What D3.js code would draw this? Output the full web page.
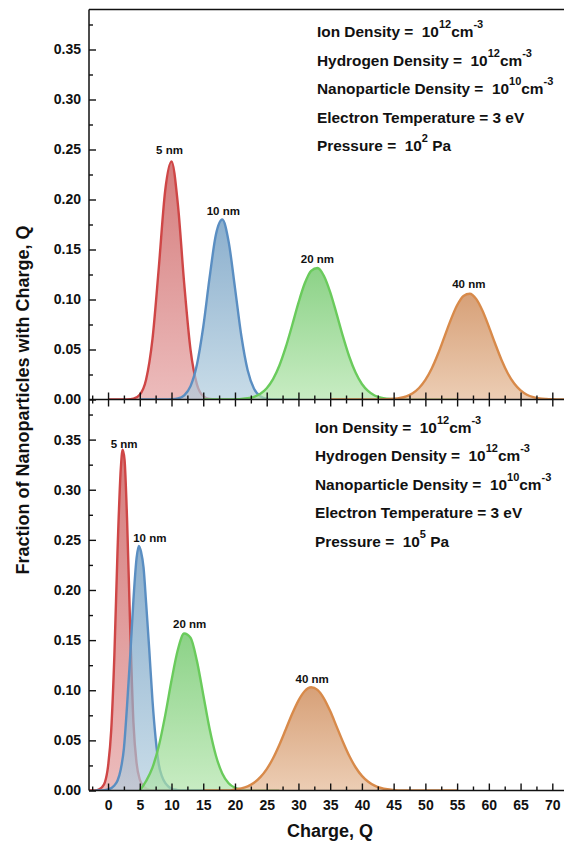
<!DOCTYPE html>
<html><head><meta charset="utf-8">
<script src="https://cdn.jsdelivr.net/npm/d3@7"></script>
<style>
body{margin:0;background:#fff}
svg{display:block;font-family:"Liberation Sans",Arial,sans-serif;font-weight:bold}
</style></head><body>
<svg id="c" width="564" height="843"></svg>
<script>
// ---------- data ----------
const xMajor = [0,5,10,15,20,25,30,35,40,45,50,55,60,65,70];
const xMinor = [-2.5,2.5,7.5,12.5,17.5,22.5,27.5,32.5,37.5,42.5,47.5,52.5,57.5,62.5,67.5];
const yMajor = [0,0.05,0.10,0.15,0.20,0.25,0.30,0.35];
const yMinor = [0.025,0.075,0.125,0.175,0.225,0.275,0.325,0.375];
const sizeLabels = ["5 nm","10 nm","20 nm","40 nm"];

// Pressure 10^2 Pa  [charge Q, fraction]
const top5nm = [[0,0],[2,0],[3,0.0001],[4,0.0008],[5,0.0047],[6,0.0199],[7,0.0603],[8,0.132],[9,0.2086],[10,0.238],[11,0.1953],[12,0.1159],[13,0.0496],[14,0.0153],[15,0.0034],[16,0.0005],[17,0.0001],[18,0],[20,0]];
const top10nm = [[5,0],[9,0],[10,0.0002],[11,0.001],[12,0.0042],[13,0.0134],[14,0.0347],[15,0.0725],[16,0.1218],[17,0.1649],[18,0.18],[19,0.1579],[20,0.1117],[21,0.0637],[22,0.0292],[23,0.0108],[24,0.0032],[25,0.0008],[26,0.0001],[27,0],[30,0]];
const top20nm = [[15,0],[19,0],[20,0.0002],[21,0.0005],[22,0.0012],[23,0.0027],[24,0.0057],[25,0.0113],[26,0.0204],[27,0.034],[28,0.0523],[29,0.074],[30,0.0966],[31,0.1162],[32,0.1287],[33,0.1315],[34,0.1238],[35,0.1074],[36,0.0859],[37,0.0633],[38,0.043],[39,0.0269],[40,0.0155],[41,0.0083],[42,0.004],[43,0.0018],[44,0.0008],[45,0.0003],[46,0.0001],[47,0],[55,0]];
const top40nm = [[35,0],[42,0],[43,0.0001],[44,0.0003],[45,0.0007],[46,0.0015],[47,0.0032],[48,0.0063],[49,0.0115],[50,0.0196],[51,0.031],[52,0.0457],[53,0.0626],[54,0.0796],[55,0.0942],[56,0.1036],[57,0.1058],[58,0.1006],[59,0.0888],[60,0.0729],[61,0.0557],[62,0.0395],[63,0.026],[64,0.016],[65,0.0091],[66,0.0048],[67,0.0024],[68,0.0011],[69,0.0005],[70,0.0002],[71,0.0001],[72,0],[75,0]];

// Pressure 10^5 Pa
const bot5nm = [[-3,0],[-2,0],[-1.5,0.001],[-1,0.003],[-0.5,0.008],[0,0.024],[0.5,0.06],[1,0.135],[1.5,0.24],[2,0.32],[2.3,0.34],[2.6,0.33],[3,0.27],[3.5,0.16],[4,0.068],[4.5,0.027],[5,0.011],[5.5,0.005],[6,0.002],[7,0],[10,0]];
const bot10nm = [[-2,0],[-1,0],[0,0.001],[1,0.005],[1.5,0.01],[2,0.021],[2.5,0.042],[3,0.085],[3.5,0.135],[4,0.19],[4.5,0.232],[4.85,0.244],[5.2,0.238],[5.6,0.222],[6,0.187],[6.5,0.14],[7,0.09],[7.5,0.052],[8,0.026],[8.5,0.014],[9,0.0075],[9.5,0.004],[10,0.002],[10.5,0.001],[11,0.0004],[12,0],[15,0]];
const bot20nm = [[5,0],[6,0.0095],[7,0.0229],[8,0.0443],[9,0.0747],[10,0.1097],[11,0.1404],[12,0.1566],[13,0.1524],[14,0.1293],[15,0.0956],[16,0.0616],[17,0.0347],[18,0.017],[19,0.0072],[20,0.0027],[21,0.0009],[22,0.0003],[23,0],[27,0]];
const bot40nm = [[15,0],[19,0],[20,0.0011],[21,0.0022],[22,0.0042],[23,0.0077],[24,0.0133],[25,0.0213],[26,0.0322],[27,0.0457],[28,0.0609],[29,0.0763],[30,0.0897],[31,0.0992],[32,0.103],[33,0.1004],[34,0.092],[35,0.0792],[36,0.064],[37,0.0487],[38,0.0347],[39,0.0232],[40,0.0146],[41,0.0087],[42,0.0048],[43,0.0025],[44,0.0012],[45,0.0005],[46,0],[55,0]];

const notesTop = [
  [["Ion Density =  10",0],["12",1],["cm",0],["-3",1]],
  [["Hydrogen Density =  10",0],["12",1],["cm",0],["-3",1]],
  [["Nanoparticle Density =  10",0],["10",1],["cm",0],["-3",1]],
  [["Electron Temperature = 3 eV",0]],
  [["Pressure =  10",0],["2",1],[" Pa",0]]
];
const notesBot = [
  [["Ion Density =  10",0],["12",1],["cm",0],["-3",1]],
  [["Hydrogen Density =  10",0],["12",1],["cm",0],["-3",1]],
  [["Nanoparticle Density =  10",0],["10",1],["cm",0],["-3",1]],
  [["Electron Temperature = 3 eV",0]],
  [["Pressure =  10",0],["5",1],[" Pa",0]]
];

// ---------- style / layout ----------
const lineColors = ["#cf4646","#5a8ec2","#6acb5c","#d88a4a"];
const fillTop = ["#c34545","#5a8db8","#5bbf54","#c6783e"];
const fillBot = ["#e49f9f","#b1cdde","#b0e4a9","#e4b894"];
const labelOffTop = [[-2,-8],[1,-4.7],[0,-4.7],[-1,-5.4]];
const labelOffBot = [[1.5,-1.3],[11,-3.6],[5.5,-5],[1,-4]];

const svg = d3.select("#c");
const L = 89, R = 565;
const x = d3.scaleLinear().domain([-3,72]).range([L,R]);
const yT = d3.scaleLinear().domain([0,0.39]).range([399.5,9.5]);
const yB = d3.scaleLinear().domain([0,0.39]).range([790.5,399.5]);

const defs = svg.append("defs");
lineColors.forEach((c,i)=>{
  const g = defs.append("linearGradient").attr("id","g"+i)
    .attr("x1",0).attr("y1",0).attr("x2",0).attr("y2",1);
  g.append("stop").attr("offset","0%").attr("stop-color",fillTop[i]);
  g.append("stop").attr("offset","100%").attr("stop-color",fillBot[i]);
});
defs.append("clipPath").attr("id","clipT").append("rect").attr("x",L).attr("y",0).attr("width",R-L).attr("height",399.5);
defs.append("clipPath").attr("id","clipB").append("rect").attr("x",L).attr("y",399.5).attr("width",R-L).attr("height",391);

function panel(series, y, clip, offs, notes, nx, nb){
  const g = svg.append("g").attr("clip-path","url(#"+clip+")");
  series.forEach((s,i)=>{
    const area = d3.area().x(d=>x(d[0])).y0(y(0)).y1(d=>y(d[1])).curve(d3.curveMonotoneX);
    const line = d3.line().x(d=>x(d[0])).y(d=>y(d[1])).curve(d3.curveMonotoneX);
    g.append("path").attr("d",area(s)).attr("fill","url(#g"+i+")").attr("fill-opacity",0.7);
    g.append("path").attr("d",line(s)).attr("fill","none").attr("stroke",lineColors[i])
      .attr("stroke-width",2.4).attr("stroke-linejoin","round");
  });
  series.forEach((s,i)=>{
    const pk = s.reduce((a,b)=>b[1]>a[1]?b:a);
    svg.append("text").attr("x",x(pk[0])+offs[i][0]).attr("y",y(pk[1])+offs[i][1])
      .attr("text-anchor","middle").attr("font-size",11.5).attr("fill","#111").text(sizeLabels[i]);
  });
  notes.forEach((ln,j)=>{
    const t = svg.append("text").attr("x",nx).attr("y",nb+j*28.5)
      .attr("font-size",15.4).attr("fill","#111").style("white-space","pre");
    let up=false;
    ln.forEach(([s,sup])=>{
      const ts = t.append("tspan").text(s);
      if(sup){ ts.attr("font-size",11).attr("dy",up?0:-9); up=true; }
      else { if(up){ ts.attr("dy",9); up=false; } }
    });
  });
}
panel([top5nm,top10nm,top20nm,top40nm], yT, "clipT", labelOffTop, notesTop, 317, 37.3);
panel([bot5nm,bot10nm,bot20nm,bot40nm], yB, "clipB", labelOffBot, notesBot, 315, 432.5);

// ---------- axes ----------
const ax = svg.append("g").attr("fill","none");
function styleAxis(sel){
  sel.select(".domain").remove();
  sel.selectAll(".tick line").attr("stroke","#111").attr("stroke-width",1.4);
  sel.selectAll(".tick text").attr("fill","#111").attr("font-size",14)
     .attr("font-family","'Liberation Sans',Arial,sans-serif").attr("font-weight","bold");
}
[yT,yB].forEach(y=>{
  ax.append("g").attr("transform",`translate(${L},0)`)
    .call(d3.axisLeft(y).tickValues(yMajor).tickSize(-7).tickPadding(8).tickFormat(d3.format(".2f"))).call(styleAxis);
  ax.append("g").attr("transform",`translate(${L},0)`)
    .call(d3.axisLeft(y).tickValues(yMinor).tickSize(-4).tickFormat("")).call(styleAxis);
});
// middle shared axis: ticks crossing
ax.append("g").attr("transform","translate(0,399.5)")
  .call(d3.axisBottom(x).tickValues(xMajor).tickSize(7).tickFormat("")).call(styleAxis);
ax.append("g").attr("transform","translate(0,399.5)")
  .call(d3.axisTop(x).tickValues(xMajor).tickSize(7).tickFormat("")).call(styleAxis);
ax.append("g").attr("transform","translate(0,399.5)")
  .call(d3.axisBottom(x).tickValues(xMinor).tickSize(4).tickFormat("")).call(styleAxis);
ax.append("g").attr("transform","translate(0,399.5)")
  .call(d3.axisTop(x).tickValues(xMinor).tickSize(4).tickFormat("")).call(styleAxis);
// bottom axis
ax.append("g").attr("transform","translate(0,790.5)")
  .call(d3.axisBottom(x).tickValues(xMajor).tickSize(-7).tickPadding(9.5)).call(styleAxis);
ax.append("g").attr("transform","translate(0,790.5)")
  .call(d3.axisBottom(x).tickValues(xMinor).tickSize(-4).tickFormat("")).call(styleAxis);

// frame lines
ax.append("line").attr("x1",L).attr("x2",564).attr("y1",9.5).attr("y2",9.5).attr("stroke","#111").attr("stroke-width",1.5);
ax.append("line").attr("x1",L).attr("x2",564).attr("y1",399.5).attr("y2",399.5).attr("stroke","#111").attr("stroke-width",1.5);
ax.append("line").attr("x1",L).attr("x2",564).attr("y1",790.5).attr("y2",790.5).attr("stroke","#111").attr("stroke-width",1.5);
ax.append("line").attr("x1",L).attr("x2",L).attr("y1",9.5).attr("y2",790.5).attr("stroke","#111").attr("stroke-width",1.5);

// axis titles
svg.append("text").attr("x",330).attr("y",837).attr("text-anchor","middle").attr("font-size",18).attr("fill","#111").text("Charge, Q");
svg.append("text").attr("transform","translate(29,400) rotate(-90)").attr("text-anchor","middle")
  .attr("font-size",18).attr("fill","#111").text("Fraction of Nanoparticles with Charge, Q");
</script>
</body></html>
